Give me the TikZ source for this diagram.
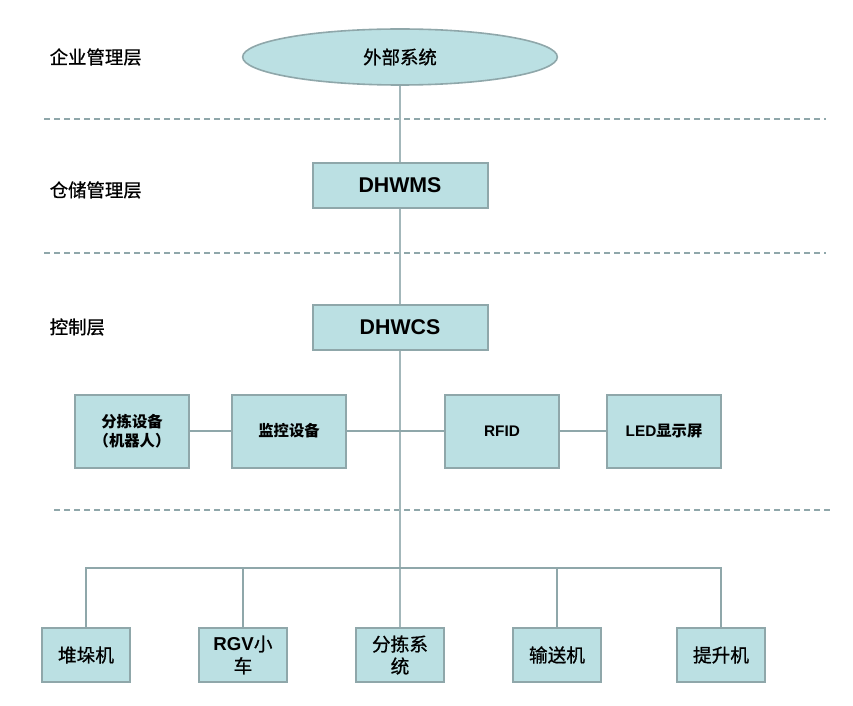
\documentclass[tikz,border=0pt]{standalone}
\usepackage{fontspec}
\setmainfont{Liberation Sans}
\newfontfamily\cjk{Noto Sans CJK SC}
\newfontfamily\cjkh[FakeBold=0.8]{Noto Sans CJK SC}
\usetikzlibrary{shapes.geometric}

\definecolor{boxfill}{HTML}{BBE0E3}
\definecolor{boxline}{HTML}{8FA7AA}
\definecolor{mainline}{HTML}{A3B7BA}

\tikzset{
  box/.style={draw=boxline, fill=boxfill, line width=1.5pt, inner sep=0pt, align=center},
  topbox/.style={box, minimum width=131.25pt, minimum height=33.75pt, font=\fontsize{16}{18}\selectfont\bfseries},
  midbox/.style={box, minimum width=85.5pt, minimum height=54.75pt, font=\fontsize{11.5}{14.5}\selectfont\bfseries},
  lowbox/.style={box, minimum width=66pt, minimum height=40.5pt, font=\fontsize{14}{16.5}\selectfont},
  layer/.style={anchor=west, font=\fontsize{13.8}{15}\selectfont\cjkh},
  divider/.style={draw=boxline, line width=1.2pt, dash pattern=on 4.5pt off 3pt},
  link/.style={draw=boxline, line width=1.5pt},
}

\begin{document}
\begin{tikzpicture}[x=0.75pt, y=-0.75pt]
\useasboundingbox (0,0) rectangle (853,706);

% layer names
\node[layer] (l1) at (45,57) {企业管理层};
\node[layer] (l2) at (45,190) {仓储管理层};
\node[layer] (l3) at (45,327) {控制层};

% dividers
\coordinate (d1a) at (44,119);  \coordinate (d1b) at (826,119);
\coordinate (d2a) at (44,253);  \coordinate (d2b) at (826,253);
\coordinate (d3a) at (54,510);  \coordinate (d3b) at (834,510);
\draw[divider] (d1a) -- (d1b);
\draw[divider] (d2a) -- (d2b);
\draw[divider] (d3a) -- (d3b);

% main column
\node[ellipse, draw=boxline, fill=boxfill, line width=1.2pt, minimum width=236pt, minimum height=42pt,
      inner sep=0pt, font=\fontsize{13.8}{15}\selectfont\cjkh] (ext) at (400,57) {外部系统};
\node[topbox] (wms) at (400,185.5) {DHWMS};
\node[topbox] (wcs) at (400,327) {DHWCS};

% control devices
\node[midbox] (robot) at (132,431) {\cjk 分拣设备\\\cjk （机器人）};
\node[midbox] (monitor) at (289,431) {\cjk 监控设备};
\node[midbox] (rfid) at (502,431) {RFID};
\node[midbox] (led) at (664,431) {LED{\cjk 显示屏}};

% equipment
\node[lowbox] (stacker) at (86,655) {\cjkh 堆垛机};
\node[lowbox] (rgv) at (243,655) {\textbf{RGV}{\cjkh 小}\\\cjkh 车};
\node[lowbox] (sorter) at (400,655) {\cjkh 分拣系\\\cjkh 统};
\node[lowbox] (conveyor) at (557,655) {\cjkh 输送机};
\node[lowbox] (lift) at (721,655) {\cjkh 提升机};

% links
\coordinate (bus) at (400,568);
\draw[draw=mainline, line width=1.2pt] (ext.south) -- (wms.north);
\draw[draw=mainline, line width=1.2pt] (wms.south) -- (wcs.north);
\draw[draw=mainline, line width=1.2pt] (wcs.south) -- (sorter.north);
\draw[link] (robot) -- (monitor);
\draw[link] (monitor) -- (rfid);
\draw[link] (rfid) -- (led);
\draw[link] (stacker.north) |- (bus) -| (lift.north);
\draw[link] (rgv.north) -- (rgv.north |- bus);
\draw[link] (conveyor.north) -- (conveyor.north |- bus);
\end{tikzpicture}
\end{document}
